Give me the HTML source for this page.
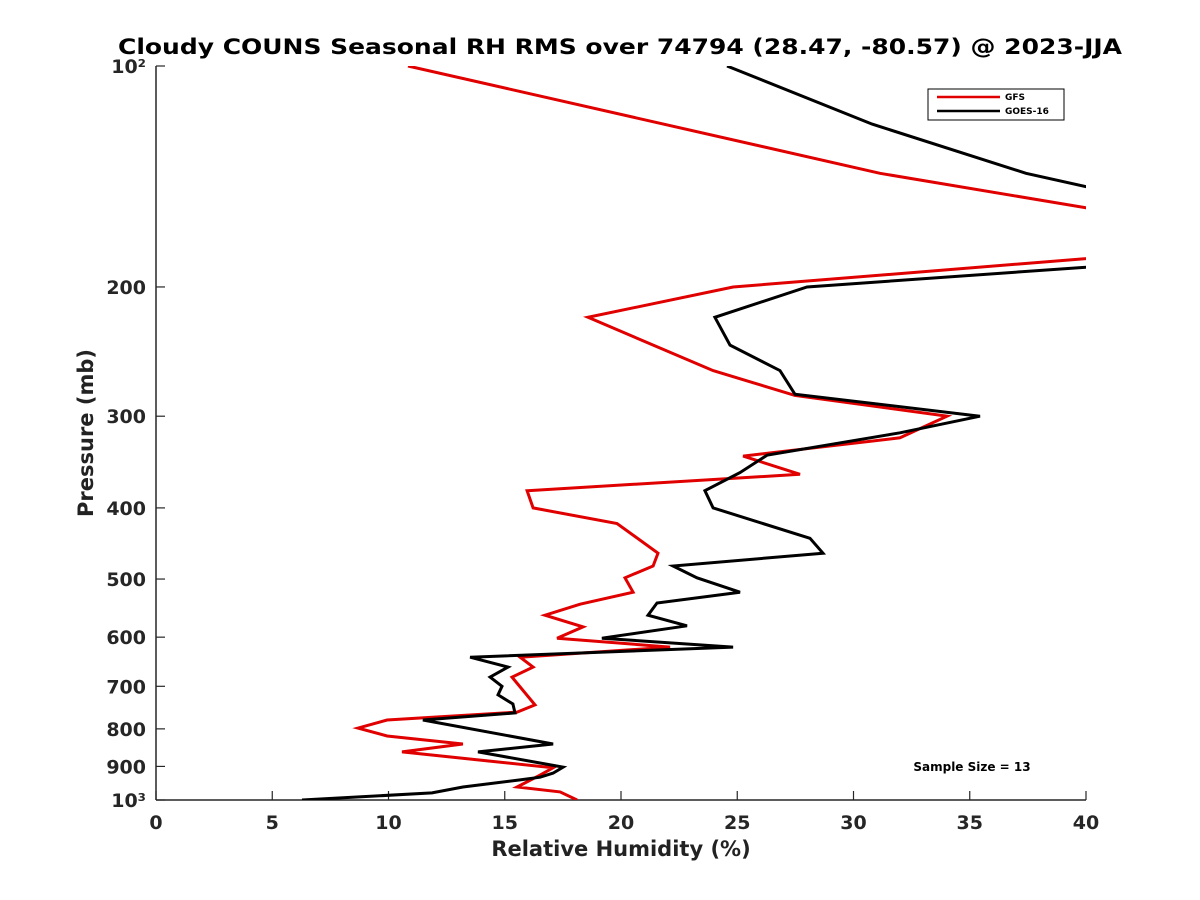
<!DOCTYPE html>
<html><head><meta charset="utf-8"><style>
body{margin:0;background:#fff;}
svg{display:block;font-family:"DejaVu Sans","Liberation Sans",sans-serif;}
</style></head><body>
<svg id="chart" width="1200" height="900">
<defs><clipPath id="plotclip"><rect x="156" y="66" width="930" height="734"/></clipPath></defs>
<rect width="1200" height="900" fill="#fff"/>
<text x="620" y="54" text-anchor="middle" font-size="21" font-weight="bold" fill="#000" textLength="1004" lengthAdjust="spacingAndGlyphs">Cloudy COUNS Seasonal RH RMS over 74794 (28.47, -80.57) @ 2023-JJA</text>
<g id="axes"></g>
<g id="series" clip-path="url(#plotclip)"></g>
<g>
<rect x="928" y="89" width="136" height="31" fill="#fff" stroke="#000" stroke-width="1"/>
<line x1="937" y1="97" x2="1000" y2="97" stroke="#e00000" stroke-width="2.5"/>
<text x="1005" y="100" font-size="9" font-weight="bold">GFS</text>
<line x1="937" y1="111" x2="1000" y2="111" stroke="#000" stroke-width="2.5"/>
<text x="1005" y="114" font-size="9" font-weight="bold">GOES-16</text>
</g>
<text x="972" y="771" text-anchor="middle" font-size="12" font-weight="bold">Sample Size = 13</text>
<text x="621" y="856" text-anchor="middle" font-size="21" font-weight="bold" fill="#222">Relative Humidity (%)</text>
<text transform="translate(93,433) rotate(-90)" text-anchor="middle" font-size="21" font-weight="bold" fill="#222">Pressure (mb)</text>
</svg>
<script>
const gfsP=[100,140,156,169,183,200,220,260,281,300,321,340,360,379,400,420,461,480,498,521,541,560,581,602,619,639,659,680,742,759,778,798,818,839,860,904,925,960,975,1000];
const gfsRH=[10.84,31.14,40,44.9,40,24.82,18.58,23.96,27.48,34.02,32.0,25.25,27.7,15.96,16.22,19.83,21.59,21.38,20.17,20.52,18.24,16.73,18.37,17.25,22.11,15.66,16.22,15.31,16.3,15.53,9.94,8.69,9.94,13.2,10.58,17.08,16.52,15.53,17.38,18.11];
const goesP=[100,120,140,146,167,188,200,220,240,260,280,300,316,339,358,379,400,440,461,480,498,521,539,560,579,602,619,639,659,680,700,719,740,761,778,839,860,902,919,931,939,960,978,1000];
const goesRH=[24.56,30.8,37.42,40,47,40,28.0,24.04,24.69,26.84,27.48,35.44,32.0,26.28,25.12,23.61,23.96,28.13,28.69,22.24,23.27,25.12,21.55,21.16,22.84,19.18,24.82,13.51,15.14,14.37,14.88,14.71,15.35,15.44,11.48,17.08,13.85,17.51,17.08,16.52,15.66,13.2,11.87,6.28];
const xTicks=[0,5,10,15,20,25,30,35,40];
const yTicks=[100,200,300,400,500,600,700,800,900,1000];
const yTickLabels=["10²","200","300","400","500","600","700","800","900","10³"];

const X0=156,X1=1086,Y0=66,Y1=800;
function xs(v){return X0+(v-0)/(40-0)*(X1-X0);}
function ys(p){return Y0+(Math.log10(p)-2)*(Y1-Y0);}
const NS="http://www.w3.org/2000/svg";
function mk(tag,attrs,parent){const e=document.createElementNS(NS,tag);for(const k in attrs)e.setAttribute(k,attrs[k]);parent.appendChild(e);return e;}
const axes=document.getElementById('axes');
let l=mk('line',{x1:X0,y1:Y1,x2:X1,y2:Y1,stroke:'#262626','stroke-width':1.5},axes);


l=mk('line',{x1:X0,y1:Y0,x2:X0,y2:Y1,stroke:'#262626','stroke-width':1.5},axes);


xTicks.forEach(v=>{
  const t=mk('line',{x1:xs(v),y1:Y1,x2:xs(v),y2:Y1-9,stroke:'#262626','stroke-width':1.2},axes);
  
  
  const tx=mk('text',{x:xs(v),y:Y1+29,'text-anchor':'middle','font-size':19,'font-weight':'bold',fill:'#262626'},axes);
  tx.textContent=v;
  
  
});
yTicks.forEach((p,i)=>{
  const t=mk('line',{x1:X0,y1:ys(p),x2:X0+9,y2:ys(p),stroke:'#262626','stroke-width':1.2},axes);
  
  
  const tx=mk('text',{x:X0-10,y:ys(p)+7,'text-anchor':'end','font-size':19,'font-weight':'bold',fill:'#262626'},axes);
  tx.textContent=yTickLabels[i];
  
  
});
const ser=document.getElementById('series');
function drawLine(P,V,color,name){
  const pts=P.map((p,i)=>xs(V[i]).toFixed(1)+','+ys(p).toFixed(1)).join(' ');
  const pl=mk('polyline',{points:pts,fill:'none',stroke:color,'stroke-width':3,'stroke-linejoin':'miter'},ser);
  
  
}
drawLine(gfsP,gfsRH,'#e00000','gfs-line');
drawLine(goesP,goesRH,'#000000','goes16-line');
</script>
</body></html>
